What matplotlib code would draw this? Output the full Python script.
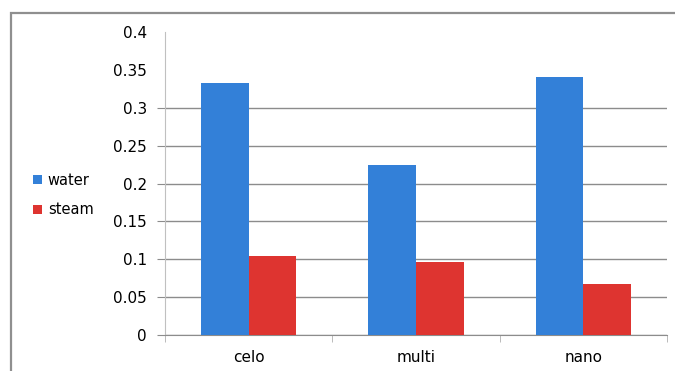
import numpy as np
import matplotlib.pyplot as plt
from matplotlib.patches import Rectangle

# bar data
categories = ['celo', 'multi', 'nano']
water = [0.333, 0.225, 0.341]
steam = [0.105, 0.096, 0.068]
yticks = [0, 0.05, 0.1, 0.15, 0.2, 0.25, 0.3, 0.35, 0.4]
ytick_labels = ['0', '0.05', '0.1', '0.15', '0.2', '0.25', '0.3', '0.35', '0.4']

blue = '#3380d8'
red = '#de3430'
grid_color = '#8c8c8c'

plt.rcParams['font.family'] = ['DejaVu Sans']

fig = plt.figure(figsize=(6.75, 3.71), dpi=100)
ax = fig.add_axes([165 / 675, 36 / 371, 502 / 675, 302.7 / 371])

# outer frame of the chart area
fig.patches.append(Rectangle((11 / 675, -0.1), 1.1, (371 - 13) / 371 + 0.1,
                             transform=fig.transFigure, fill=False,
                             edgecolor='#8f8f8f', linewidth=1.6))

x = np.arange(len(categories))
w = 0.285
ax.bar(x - w / 2, water, w, color=blue, label='water', zorder=3)
ax.bar(x + w / 2, steam, w, color=red, label='steam', zorder=3)

ax.set_xlim(-0.5, len(categories) - 0.5)
ax.set_ylim(0, 0.4)

ax.set_yticks(yticks)
ax.set_yticklabels(ytick_labels)
ax.tick_params(axis='y', length=6, color=grid_color, pad=7, labelsize=11)
ax.yaxis.grid(True, color=grid_color, linewidth=1, zorder=0)
# top two ticks have labels only
for t in ax.yaxis.get_major_ticks()[-2:]:
    t.tick1line.set_visible(False)
    t.gridline.set_visible(False)

ax.set_xticks(x)
ax.set_xticklabels(categories)
ax.set_xticks(np.arange(len(categories) + 1) - 0.5, minor=True)
ax.tick_params(axis='x', which='major', length=0, pad=11, labelsize=11)
ax.tick_params(axis='x', which='minor', length=5, color='#b0b0b0')

for s in ['top', 'right']:
    ax.spines[s].set_visible(False)
ax.spines['left'].set_color('#c0c0c0')
ax.spines['bottom'].set_color(grid_color)

fig.legend(loc='center left', bbox_to_anchor=(20 / 675, 1 - 195 / 371),
           frameon=False, fontsize=10.5, handlelength=0.6, handleheight=0.6,
           handletextpad=0.4, labelspacing=1.0)

fig.savefig('out.png', dpi=100)
